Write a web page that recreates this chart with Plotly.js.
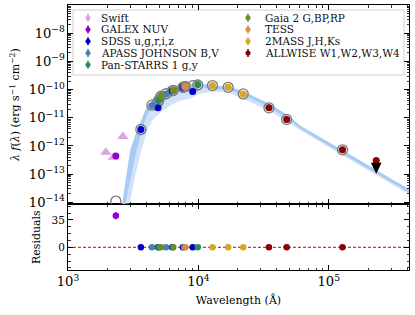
<!DOCTYPE html>
<html><head><meta charset="utf-8">
<script src="https://cdn.plot.ly/plotly-3.0.1.min.js"></script>
<style>html,body{margin:0;padding:0;background:#fff}#chart{width:415px;height:315px}</style>
</head><body><div id="chart"></div>
<script>
// ---------------- data ----------------
const surveyNames = ['Swift','GALEX NUV','SDSS u,g,r,i,z','APASS JOHNSON B,V','Pan-STARRS 1 g,y',
                     'Gaia 2 G,BP,RP','TESS','2MASS J,H,Ks','ALLWISE W1,W2,W3,W4'];

const swiftWave = [1950, 2230, 2635];
const swiftFlux = [6.0e-13, 4.0e-13, 2.17e-12];

const galexWave = [2327];
const galexFlux = [4.4e-13];
const galexErr  = [0.5e-13];
const galexRes  = [40.5];
const galexResErr = [4.5];

const sdssWave = [3620, 4897, 6300, 7600, 9040];
const sdssFlux = [3.84e-12, 2.25e-11, 9.0e-11, 1.2e-10, 8.5e-11];
const sdssRes  = [0, 0, 0, 0, 0];

const apassWave = [4400, 5640];
const apassFlux = [2.7e-11, 7.0e-11];
const apassRes  = [0, 0];

const psWave = [4950, 9880];
const psFlux = [4.1e-11, 1.5e-10];
const psRes  = [0, 0];

const gaiaWave = [5150, 6420, 7750];
const gaiaFlux = [6.1e-11, 9.2e-11, 1.25e-10];
const gaiaRes  = [0, 0, 0];

const tessWave = [7943];
const tessFlux = [1.28e-10];
const tessRes  = [0];

const tmassWave = [12820, 16920, 22070];
const tmassFlux = [1.39e-10, 1.2e-10, 7.0e-11];
const tmassRes  = [0, 0, 0];

const wiseWave = [34740, 47530, 127400, 231000];
const wiseFlux = [2.25e-11, 8.7e-12, 7.3e-13, 3.07e-13];
const wiseUpperLimit = [false, false, false, true];
const wiseRes  = [0, 0, 0, null];

// model synthetic photometry (grey open circles)
const modelWave = [2327, 3620, 4400, 4897, 4950, 5150, 5640, 6300, 6420, 7600, 7750, 7943, 9040, 9880,
                   12820, 16920, 22070, 34740, 47530, 127400];
const modelFlux = [1.11e-14, 3.84e-12, 2.8e-11, 3.6e-11, 4.1e-11, 5.8e-11, 7.1e-11, 9.0e-11, 9.4e-11, 1.2e-10,
                   1.25e-10, 1.28e-10, 1.38e-10, 1.45e-10, 1.39e-10, 1.2e-10, 7.0e-11, 2.25e-11, 8.7e-12, 7.3e-13];

// model spectrum envelopes
const specWave  = [2603, 2745, 3000, 3276, 3643, 4054, 4430, 5103, 6090, 7270, 8680, 10360, 12820, 17010,
                   22190, 27450, 34560, 47530, 60900, 128200, 229900, 420000];
const specUpper = [8.5e-15, 4.0e-14, 6.9e-13, 2.35e-12, 8.0e-12, 2.7e-11, 4.1e-11, 6.65e-11, 9.2e-11, 1.28e-10,
                   1.50e-10, 1.60e-10, 1.39e-10, 1.28e-10, 8.5e-11, 5.2e-11, 3.2e-11, 1.30e-11, 5.1e-12,
                   6.9e-13, 1.41e-13, 2.77e-14];
const specCore  = [5e-16, 8.5e-15, 6.0e-14, 4.5e-13, 3.0e-12, 1.3e-11, 2.4e-11, 4.4e-11, 6.4e-11, 9.0e-11,
                   1.08e-10, 1.2e-10, 1.08e-10, 9.8e-11, 6.4e-11, 4.0e-11, 2.4e-11, 9.8e-12, 4.0e-12,
                   5.3e-13, 1.08e-13, 2.1e-14];
const specLower = [5e-16, 5e-15, 1.18e-14, 9.0e-14, 6.9e-13, 3.54e-12, 8.0e-12, 1.53e-11, 2.7e-11, 4.1e-11,
                   4.8e-11, 7.2e-11, 8.5e-11, 7.8e-11, 4.6e-11, 3.0e-11, 1.8e-11, 7.5e-12, 3.5e-12,
                   4.6e-13, 9.4e-14, 1.84e-14];

(function () {
// ---------------- styles ----------------
const colors = {
  swift:'#e2a2e2', galex:'#9400d3', sdss:'#0000cd', apass:'#4682b4', ps:'#2e8b57',
  gaia:'#6b8e23', tess:'#db8a4a', tmass:'#daa520', wise:'#8b0000'
};
const legendColors = [colors.swift, colors.galex, colors.sdss, colors.apass, colors.ps,
                      colors.gaia, colors.tess, colors.tmass, colors.wise];
const FONT = 'DejaVu Serif';
const FS = 10.5;
const specColor = '#a9caf3';
const MS = 7;

const traces = [];
traces.push({x:specWave, y:specLower, xaxis:'x2', yaxis:'y2', mode:'lines', line:{width:0}, hoverinfo:'skip', showlegend:false});
traces.push({x:specWave, y:specUpper, xaxis:'x2', yaxis:'y2', mode:'lines', line:{width:0}, fill:'tonexty',
             fillcolor:'rgba(169,202,243,0.55)', hoverinfo:'skip', showlegend:false});
traces.push({x:specWave, y:specCore, xaxis:'x2', yaxis:'y2', mode:'lines', line:{width:0}, hoverinfo:'skip', showlegend:false});
traces.push({x:specWave, y:specUpper, xaxis:'x2', yaxis:'y2', mode:'lines', line:{width:0}, fill:'tonexty',
             fillcolor:specColor, hoverinfo:'skip', showlegend:false});
traces.push({x:modelWave, y:modelFlux, xaxis:'x2', yaxis:'y2', mode:'markers', showlegend:false,
             marker:{symbol:'circle-open', size:10, color:'#7a7a7a', line:{width:1.3}}});

function topTrace(wave, flux, color, extra) {
  return Object.assign({x:wave, y:flux, xaxis:'x2', yaxis:'y2', mode:'markers', showlegend:false,
    marker:{size:MS, color:color}}, extra||{});
}
function resTrace(wave, r, color, extra) {
  return Object.assign({x:wave, y:r, xaxis:'x', yaxis:'y', mode:'markers', showlegend:false,
    marker:{size:6.5, color:color}}, extra||{});
}
traces.push(topTrace(swiftWave, swiftFlux, colors.swift, {marker:{symbol:'triangle-up', size:10, color:colors.swift}}));
traces.push(topTrace(galexWave, galexFlux, colors.galex, {error_y:{type:'data', array:galexErr, color:colors.galex, thickness:1.5, width:0}}));
traces.push(topTrace(sdssWave, sdssFlux, colors.sdss));
traces.push(topTrace(apassWave, apassFlux, colors.apass));
traces.push(topTrace(psWave, psFlux, colors.ps));
traces.push(topTrace(gaiaWave, gaiaFlux, colors.gaia));
traces.push(topTrace(tessWave, tessFlux, colors.tess));
traces.push(topTrace(tmassWave, tmassFlux, colors.tmass));
traces.push(topTrace(wiseWave, wiseFlux, colors.wise));

traces.push(resTrace(galexWave, galexRes, colors.galex, {error_y:{type:'data', array:galexResErr, color:colors.galex, thickness:1.5, width:0}}));
traces.push(resTrace(sdssWave, sdssRes, colors.sdss));
traces.push(resTrace(apassWave, apassRes, colors.apass));
traces.push(resTrace(psWave, psRes, colors.ps));
traces.push(resTrace(gaiaWave, gaiaRes, colors.gaia));
traces.push(resTrace(tessWave, tessRes, colors.tess));
traces.push(resTrace(tmassWave, tmassRes, colors.tmass));
traces.push(resTrace(wiseWave, wiseRes, colors.wise));

// ---------------- manual legend (overlay axes x3/y3, 0..1) ----------------
const L = 68, R = 409, T = 5, SEP = 204.3, B = 270;
const px2x = p => (p - L) / (R - L);
const py2y = p => (SEP - p) / (SEP - T);
const legCols = [88, 248], legTextX = [99, 263], legRow0 = 17.7, legRowH = 11.75;
const annotations = [];
surveyNames.forEach((nm, i) => {
  const c = i < 5 ? 0 : 1, r = i < 5 ? i : i - 5;
  const yy = py2y(legRow0 + r * legRowH);
  traces.push({x:[px2x(legCols[c])], y:[yy], xaxis:'x3', yaxis:'y3', mode:'markers', showlegend:false,
    hoverinfo:'skip', marker:{size:5, color:legendColors[i]},
    error_y:{type:'constant', value:4 / (SEP - T), color:legendColors[i], thickness:1.6, width:0}});
  annotations.push({xref:'x3', yref:'y3', x:px2x(legTextX[c]), y:yy, text:nm, showarrow:false,
    xanchor:'left', yanchor:'middle', font:{family:FONT, size:FS, color:'#111'}});
});

wiseUpperLimit.forEach((u, i) => {
  if (!u) return;
  const lx = Math.log10(wiseWave[i]), ly = Math.log10(wiseFlux[i]);
  annotations.push({xref:'x2', yref:'y2', axref:'x2', ayref:'y2', x:lx, y:ly - 0.47, ax:lx, ay:ly - 0.05,
    text:'', showarrow:true, arrowhead:2, arrowsize:1.2, arrowwidth:1.8, arrowcolor:'#000'});
});

const axCommon = {
  showline:true, linecolor:'#000', linewidth:1, mirror:'allticks', ticks:'inside', ticklen:5,
  tickwidth:1, tickcolor:'#000', showgrid:false, zeroline:false,
  tickfont:{family:FONT, size:FS, color:'#000'}
};
const logMinor = {ticks:'inside', ticklen:2.5, tickwidth:0.8, tickcolor:'#000', dtick:'D1', showgrid:false};
const dsplit = (B - SEP) / (B - T);

const layout = {
  width:415, height:315, margin:{l:L, r:415 - R, t:T, b:315 - B},
  paper_bgcolor:'#fff', plot_bgcolor:'rgba(0,0,0,0)', showlegend:false,
  font:{family:FONT, size:FS, color:'#000'},
  xaxis: Object.assign({}, axCommon, {type:'log', range:[3, 5.615], dtick:1, exponentformat:'power',
    anchor:'y', domain:[0,1], minor:logMinor,
    title:{text:'Wavelength (Å)', font:{family:FONT, size:11}, standoff:8}}),
  xaxis2: Object.assign({}, axCommon, {type:'log', range:[3, 5.615], dtick:1, matches:'x',
    anchor:'y2', showticklabels:false, minor:logMinor}),
  yaxis: Object.assign({}, axCommon, {range:[-29, 55], tick0:0, dtick:35, domain:[0, dsplit], anchor:'x',
    minor:{ticks:'inside', ticklen:2.5, tickwidth:0.8, tickcolor:'#000', dtick:8.75, showgrid:false},
    title:{text:'Residuals', font:{family:FONT, size:11}, standoff:8}}),
  yaxis2: Object.assign({}, axCommon, {type:'log', range:[-14.07, -7.0], dtick:1, exponentformat:'power',
    domain:[dsplit, 1], anchor:'x2', minor:logMinor,
    title:{text:'<i>λ f</i>(<i>λ</i>) (erg s<sup>−1</sup> cm<sup>−2</sup>)', font:{family:FONT, size:11}, standoff:6}}),
  xaxis3: {overlaying:'x2', range:[0,1], visible:false, anchor:'y3'},
  yaxis3: {overlaying:'y2', range:[0,1], visible:false, anchor:'x3'},
  shapes:[
    {type:'line', xref:'x domain', yref:'y', x0:0, x1:1, y0:0, y1:0,
     line:{color:'#e03030', width:1.2, dash:'3px,2px'}, layer:'below'},
    {type:'rect', xref:'paper', yref:'paper', x0:px2x(73), x1:px2x(404),
     y0:(B - 75) / (B - T), y1:(B - 10) / (B - T),
     line:{color:'#d0d0d0', width:1}, fillcolor:'rgba(255,255,255,0.85)', layer:'below'}
  ],
  annotations: annotations
};

Plotly.newPlot('chart', traces, layout, {staticPlot:true, displayModeBar:false});
})();
</script></body></html>
